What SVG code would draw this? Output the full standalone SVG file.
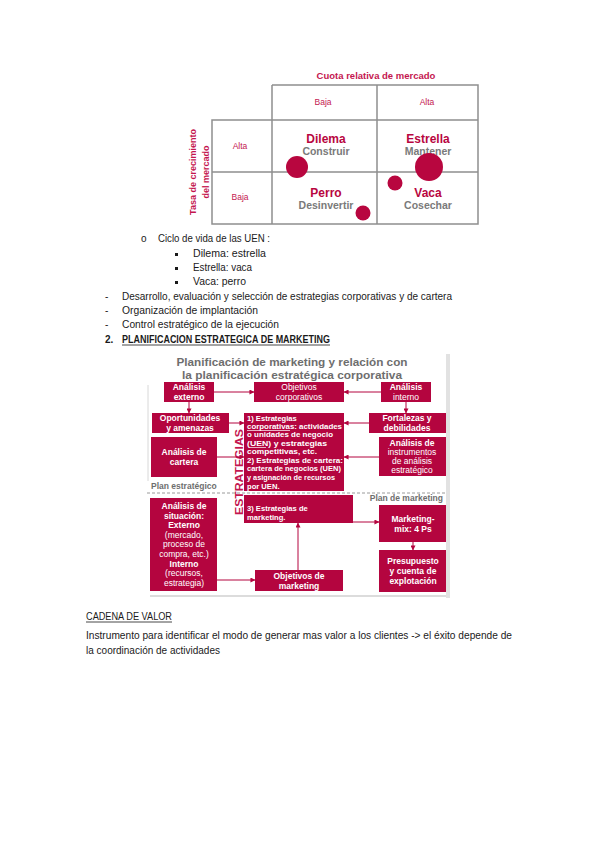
<svg xmlns="http://www.w3.org/2000/svg" width="599" height="848" viewBox="0 0 599 848">
<defs>
<style>
.bg{fill:#ffffff}
.grid{stroke:#8f8f8f;stroke-width:1.5;fill:none}
.red{fill:#b8063f}
.ax{font-family:"Liberation Sans",Arial,sans-serif;font-weight:bold;fill:#c4164f}
.lbl{font-family:"Liberation Sans",Arial,sans-serif;font-size:8.5px;fill:#c4164f;text-anchor:middle}
.q1{font-family:"Liberation Sans",Arial,sans-serif;font-weight:bold;font-size:12px;fill:#b8063f;text-anchor:middle}
.q2{font-family:"Liberation Sans",Arial,sans-serif;font-weight:bold;font-size:10.5px;fill:#7a7a7a;text-anchor:middle}
.body{font-family:"Liberation Sans",Arial,sans-serif;font-size:10px;fill:#1a1a1a}
.box{fill:#b4053f}
.bt{font-family:"Liberation Sans",Arial,sans-serif;font-weight:bold;font-size:8.5px;fill:#ffffff;text-anchor:middle}
.bn{font-family:"Liberation Sans",Arial,sans-serif;font-size:8.5px;fill:#ffffff;text-anchor:middle}
.bl{font-family:"Liberation Sans",Arial,sans-serif;font-weight:bold;font-size:7.6px;fill:#ffffff}
.gt{font-family:"Liberation Sans",Arial,sans-serif;font-weight:bold;fill:#6e6e6e}
.conn{stroke:#b4053f;stroke-width:1;fill:none;marker-end:url(#ah)}
</style>
<marker id="ah" viewBox="0 0 6 6" refX="5.5" refY="3" markerWidth="5" markerHeight="5" orient="auto" markerUnits="userSpaceOnUse">
<path d="M0,0 L6,3 L0,6 z" fill="#b4053f"/>
</marker>
</defs>
<rect class="bg" x="0" y="0" width="599" height="848"/>

<!-- BCG matrix -->
<g id="bcg">
<text class="ax" x="376" y="79" font-size="9.5" text-anchor="middle">Cuota relativa de mercado</text>
<path class="grid" d="M272,85 H478 V224 H212 V120 H478 M272,85 V224 M377,85 V224 M212,172 H478"/>
<text class="lbl" x="323" y="105">Baja</text>
<text class="lbl" x="427" y="105">Alta</text>
<text class="lbl" x="240" y="149">Alta</text>
<text class="lbl" x="240" y="200">Baja</text>
<text class="ax" font-size="9" text-anchor="middle" transform="translate(196,172) rotate(-90)">Tasa de crecimiento</text>
<text class="ax" font-size="9" text-anchor="middle" transform="translate(209,172) rotate(-90)">del mercado</text>
<text class="q1" x="326" y="143">Dilema</text>
<text class="q2" x="326" y="155">Construir</text>
<text class="q1" x="428" y="143">Estrella</text>
<text class="q2" x="428" y="155">Mantener</text>
<text class="q1" x="326" y="197">Perro</text>
<text class="q2" x="326" y="209">Desinvertir</text>
<text class="q1" x="428" y="197">Vaca</text>
<text class="q2" x="428" y="209">Cosechar</text>
<circle class="red" cx="297" cy="167" r="11"/>
<circle class="red" cx="429" cy="167" r="14"/>
<circle class="red" cx="395" cy="183" r="7.5"/>
<circle class="red" cx="363" cy="213" r="7.5"/>
</g>

<!-- Text list -->
<g id="list">
<text class="body" x="141" y="242">o</text>
<text class="body" x="158" y="242" textLength="112" lengthAdjust="spacingAndGlyphs">Ciclo de vida de las UEN :</text>
<rect x="175" y="253" width="3" height="3" fill="#1a1a1a"/>
<text class="body" x="193" y="257" textLength="73" lengthAdjust="spacingAndGlyphs">Dilema: estrella</text>
<rect x="175" y="267" width="3" height="3" fill="#1a1a1a"/>
<text class="body" x="193" y="271" textLength="59" lengthAdjust="spacingAndGlyphs">Estrella: vaca</text>
<rect x="175" y="281" width="3" height="3" fill="#1a1a1a"/>
<text class="body" x="193" y="285" textLength="53" lengthAdjust="spacingAndGlyphs">Vaca: perro</text>
<text class="body" x="105" y="300">-</text>
<text class="body" x="122" y="300" textLength="330" lengthAdjust="spacingAndGlyphs">Desarrollo, evaluación y selección de estrategias corporativas y de cartera</text>
<text class="body" x="105" y="314">-</text>
<text class="body" x="122" y="314" textLength="136" lengthAdjust="spacingAndGlyphs">Organización de implantación</text>
<text class="body" x="105" y="328">-</text>
<text class="body" x="122" y="328" textLength="157" lengthAdjust="spacingAndGlyphs">Control estratégico de la ejecución</text>
<text class="body" x="105" y="343" font-weight="bold">2.</text>
<text class="body" x="122" y="343" font-weight="bold" textLength="208" lengthAdjust="spacingAndGlyphs">PLANIFICACION ESTRATEGICA DE MARKETING</text>
<line x1="122" y1="345" x2="330" y2="345" stroke="#1a1a1a" stroke-width="0.8"/>
</g>

<!-- Marketing diagram frame -->
<g id="frame">
<rect x="446" y="354" width="4" height="244" fill="#e2e2e2"/>
<line x1="148" y1="385" x2="148" y2="481" stroke="#d8d8d8" stroke-width="1"/>
<line x1="150" y1="596" x2="446" y2="596" stroke="#d0d0d0" stroke-width="1.5"/>
<text class="gt" x="292" y="366" font-size="10.5" text-anchor="middle" textLength="231" lengthAdjust="spacingAndGlyphs">Planificación de marketing y relación con</text>
<text class="gt" x="292" y="379" font-size="10.5" text-anchor="middle" textLength="220" lengthAdjust="spacingAndGlyphs">la planificación estratégica corporativa</text>
<text class="gt" x="151" y="489" font-size="8.5" font-weight="normal">Plan estratégico</text>
<line x1="147" y1="493" x2="445" y2="493" stroke="#9a9a9a" stroke-width="1" stroke-dasharray="3,2"/>
<text class="gt" x="443" y="501" font-size="8.5" font-weight="normal" text-anchor="end">Plan de marketing</text>
<text class="ax" font-size="11" fill="#b4053f" text-anchor="middle" transform="translate(243,472) rotate(-90)" textLength="86" lengthAdjust="spacingAndGlyphs">ESTRATEGIAS</text>
</g>

<g id="connectors">
<line class="conn" x1="214" y1="392" x2="254" y2="392"/>
<line class="conn" x1="381" y1="392" x2="344" y2="392"/>
<line class="conn" x1="189" y1="402" x2="189" y2="413"/>
<line class="conn" x1="406" y1="402" x2="406" y2="413"/>
<line class="conn" x1="229" y1="423" x2="244" y2="423"/>
<line class="conn" x1="369" y1="423" x2="344" y2="423"/>
<line class="conn" x1="217" y1="457" x2="244" y2="457"/>
<line class="conn" x1="379" y1="457" x2="344" y2="457"/>
<line class="conn" x1="217" y1="580" x2="255" y2="580"/>
<line class="conn" x1="298" y1="570" x2="298" y2="523"/>
<line class="conn" x1="353" y1="522" x2="379" y2="522"/>
<line class="conn" x1="413" y1="542" x2="413" y2="550"/>
</g>

<g id="n-analisis-externo">
<rect class="box" x="164" y="382" width="50" height="20"/>
<text class="bt" x="189" y="390">Análisis</text>
<text class="bt" x="189" y="400">externo</text>
</g>
<g id="n-objetivos-corporativos">
<rect class="box" x="254" y="382" width="90" height="20"/>
<text class="bn" x="299" y="390">Objetivos</text>
<text class="bn" x="299" y="400">corporativos</text>
</g>
<g id="n-analisis-interno">
<rect class="box" x="381" y="382" width="50" height="20"/>
<text class="bt" x="406" y="390">Análisis</text>
<text class="bn" x="406" y="400">interno</text>
</g>
<g id="n-oportunidades">
<rect class="box" x="152" y="413" width="77" height="20"/>
<text class="bt" x="190" y="421">Oportunidades</text>
<text class="bt" x="190" y="431">y amenazas</text>
</g>
<g id="n-fortalezas">
<rect class="box" x="369" y="413" width="77" height="20"/>
<text class="bt" x="407" y="421">Fortalezas y</text>
<text class="bt" x="407" y="431">debilidades</text>
</g>
<g id="n-estrategias-corp">
<rect class="box" x="244" y="413" width="100" height="78"/>
<text class="bl" x="247" y="421">1) Estrategias</text>
<text class="bl" x="247" y="429" textLength="95" lengthAdjust="spacingAndGlyphs">corporativas: actividades</text>
<line x1="247" y1="430.5" x2="290" y2="430.5" stroke="#fff" stroke-width="0.7"/>
<text class="bl" x="247" y="437" textLength="86" lengthAdjust="spacingAndGlyphs">o unidades de negocio</text>
<text class="bl" x="247" y="446" textLength="80" lengthAdjust="spacingAndGlyphs">(UEN) y estrategias</text>
<line x1="249" y1="447.5" x2="266" y2="447.5" stroke="#fff" stroke-width="0.7"/>
<text class="bl" x="247" y="454" textLength="70" lengthAdjust="spacingAndGlyphs">competitivas, etc.</text>
<text class="bl" x="247" y="463" textLength="96" lengthAdjust="spacingAndGlyphs">2) Estrategias de cartera:</text>
<text class="bl" x="247" y="471" textLength="94" lengthAdjust="spacingAndGlyphs">cartera de negocios (UEN)</text>
<text class="bl" x="247" y="480" textLength="88" lengthAdjust="spacingAndGlyphs">y asignación de recursos</text>
<text class="bl" x="247" y="489">por UEN.</text>
</g>
<g id="n-cartera">
<rect class="box" x="151" y="437" width="66" height="40"/>
<text class="bt" x="184" y="455">Análisis de</text>
<text class="bt" x="184" y="465">cartera</text>
</g>
<g id="n-instrumentos">
<rect class="box" x="379" y="437" width="67" height="39"/>
<text class="bt" x="412" y="446">Análisis de</text>
<text class="bn" x="412" y="455">instrumentos</text>
<text class="bn" x="412" y="464">de análisis</text>
<text class="bn" x="412" y="473">estratégico</text>
</g>
<g id="n-estrategias-mkt">
<rect class="box" x="244" y="495" width="109" height="28"/>
<text class="bl" x="247" y="511">3) Estrategias de</text>
<text class="bl" x="247" y="520">marketing.</text>
</g>
<g id="n-situacion">
<rect class="box" x="150" y="498" width="67" height="93"/>
<text class="bt" x="184" y="509">Análisis de</text>
<text class="bt" x="184" y="518.6">situación:</text>
<text class="bt" x="184" y="528.2">Externo</text>
<text class="bn" x="184" y="537.8">(mercado,</text>
<text class="bn" x="184" y="547.4">proceso de</text>
<text class="bn" x="184" y="557">compra, etc.)</text>
<text class="bt" x="184" y="566.6">Interno</text>
<text class="bn" x="184" y="576.2">(recursos,</text>
<text class="bn" x="184" y="585.8">estrategia)</text>
</g>
<g id="n-objetivos-mkt">
<rect class="box" x="255" y="570" width="88" height="21"/>
<text class="bt" x="299" y="579">Objetivos de</text>
<text class="bt" x="299" y="589">marketing</text>
</g>
<g id="n-marketing-mix">
<rect class="box" x="379" y="505" width="67" height="37"/>
<text class="bt" x="413" y="522">Marketing-</text>
<text class="bt" x="413" y="532">mix: 4 Ps</text>
</g>
<g id="n-presupuesto">
<rect class="box" x="379" y="550" width="67" height="42"/>
<text class="bt" x="413" y="564">Presupuesto</text>
<text class="bt" x="413" y="574">y cuenta de</text>
<text class="bt" x="413" y="584">explotación</text>
</g>

<!-- Bottom text -->
<g id="cadena">
<text class="body" x="86" y="620" textLength="86" lengthAdjust="spacingAndGlyphs">CADENA DE VALOR</text>
<line x1="86" y1="622" x2="172" y2="622" stroke="#1a1a1a" stroke-width="0.8"/>
<text class="body" x="86" y="639" textLength="426" lengthAdjust="spacingAndGlyphs">Instrumento para identificar el modo de generar mas valor a los clientes -&gt; el éxito depende de</text>
<text class="body" x="86" y="654" textLength="134" lengthAdjust="spacingAndGlyphs">la coordinación de actividades</text>
</g>
</svg>
